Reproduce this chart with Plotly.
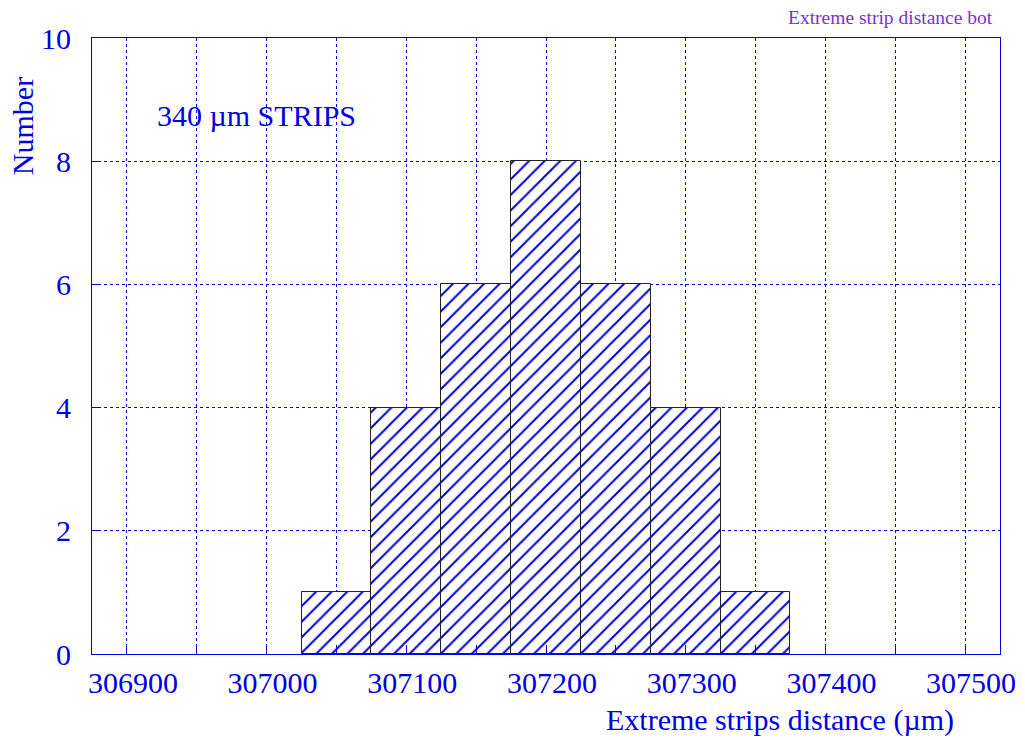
import plotly.graph_objects as go

# Histogram of the extreme strips distance (bin width 50 µm)
bin_centers = [307050, 307100, 307150, 307200, 307250, 307300, 307350]
counts = [1, 4, 6, 8, 6, 4, 1]
bin_width = 50

x_range = [306875, 307525]
y_range = [0, 10]
x_tickvals = [306900, 307000, 307100, 307200, 307300, 307400, 307500]
x_ticktext = [str(v) for v in x_tickvals]
y_tickvals = [0, 2, 4, 6, 8, 10]

BLUE = "#0000e6"
FONT = "Liberation Serif"

fig = go.Figure()
fig.add_trace(go.Bar(
    x=bin_centers,
    y=counts,
    width=[bin_width] * len(bin_centers),
    marker=dict(
        color="white",
        line=dict(color="#222222", width=1),
        pattern=dict(shape="/", fgcolor="#0000dd", bgcolor="white",
                     fgopacity=1, size=11, solidity=0.18),
    ),
    showlegend=False,
))

axis_common = dict(
    showline=True, linecolor=BLUE, linewidth=1, mirror=True,
    ticks="inside", tickcolor=BLUE, ticklen=9,
    showgrid=True, gridcolor=BLUE, griddash="dot", gridwidth=1,
    zeroline=False, automargin=False,
    tickfont=dict(family=FONT, size=30, color=BLUE),
)

fig.update_xaxes(
    range=x_range, tickvals=x_tickvals, ticktext=x_ticktext,
    ticklabelstandoff=2, ticklabelshift=6,
    minor=dict(dtick=50, tick0=306900, ticks="inside", ticklen=9,
               tickcolor=BLUE, showgrid=True, gridcolor=BLUE,
               griddash="dot", gridwidth=1),
    **axis_common,
)
fig.update_yaxes(
    range=y_range, tickvals=y_tickvals,
    ticklabelstandoff=14,
    **axis_common,
)

fig.add_annotation(
    text="Extreme strips distance (µm)", xref="paper", yref="paper",
    x=0.951, y=-0.107, xanchor="right", yanchor="middle", showarrow=False,
    font=dict(family=FONT, size=30, color=BLUE),
)
fig.add_annotation(
    text="Number", xref="paper", yref="paper", textangle=-90,
    x=-0.077, y=0.857, xanchor="center", yanchor="middle", showarrow=False,
    font=dict(family=FONT, size=30, color=BLUE),
)
fig.add_annotation(
    text="340 µm STRIPS", xref="paper", yref="paper",
    x=0.0694, y=0.875, xanchor="left", yanchor="middle", showarrow=False,
    font=dict(family=FONT, size=30, color=BLUE),
)
fig.add_annotation(
    text="Extreme strip distance bot", xref="paper", yref="paper",
    x=0.879, y=1.034, xanchor="center", yanchor="middle", showarrow=False,
    font=dict(family=FONT, size=19.5, color="#7a30d8"),
)

fig.update_layout(
    width=1025, height=740,
    margin=dict(l=92, r=25, t=38, b=86),
    paper_bgcolor="white", plot_bgcolor="white",
    bargap=0,
)

fig.write_html("out.html")
